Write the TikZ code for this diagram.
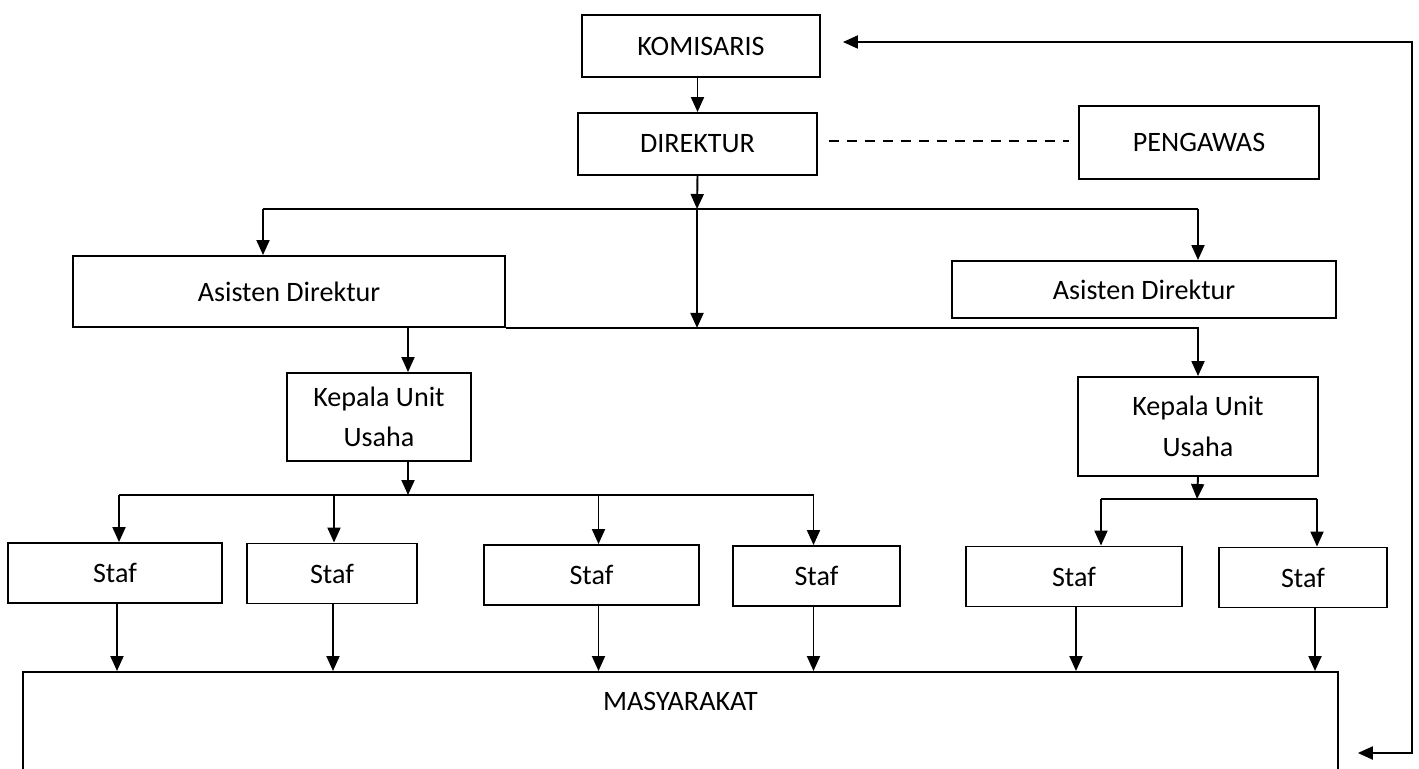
\documentclass[tikz,border=0pt]{standalone}
\usepackage{fontspec}
\setmainfont{Carlito}
\usetikzlibrary{arrows.meta,positioning,calc}

\begin{document}
\begin{tikzpicture}[x=0.02cm,y=-0.02cm,line width=1.1pt,
  >={Triangle[length=0.3cm,width=0.26cm]},
  every node/.style={font=\fontsize{16}{23}\selectfont},
  box/.style={draw,align=center,inner sep=0pt},
  arr/.style={->}]
  \useasboundingbox (0,0) rectangle (1419,768);
  \clip (0,0) rectangle (1419,768);

  \node[box,minimum width=4.76cm,minimum height=1.24cm] (kom) at (701,46) {KOMISARIS};
  \node[box,minimum width=4.78cm,minimum height=1.24cm] (dir) at (697.5,144) {DIREKTUR};
  \node[box,minimum width=4.80cm,minimum height=1.46cm] (peng) at (1199,142.5) {PENGAWAS};
  \node[box,minimum width=8.64cm,minimum height=1.42cm] (asL) at (289,291.5) {Asisten Direktur};
  \node[box,minimum width=7.68cm,minimum height=1.14cm] (asR) at (1144,289.5) {Asisten Direktur};
  \node[box,minimum width=3.68cm,minimum height=1.76cm] (kuL) at (379,417) {Kepala Unit\\Usaha};
  \node[box,minimum width=4.80cm,minimum height=1.98cm] (kuR) at (1198,426.5) {Kepala Unit\\Usaha};
  \foreach \n/\x/\y/\w in {s1/115/573/4.28,s2/332/573.5/3.40,s3/591.5/575/4.30,
      s4/816.5/576/3.34,s5/1074/576.5/4.32,s6/1303/577.5/3.36}
    \node[box,minimum width=\w cm,minimum height=1.2cm] (\n) at (\x,\y) {Staf};
  \node[box,anchor=north,minimum width=26.3cm,text height=0.78cm,text depth=1.6cm] (masy) at (680.5,671) {MASYARAKAT};

  \coordinate (j1) at (697,209);
  \coordinate (j1L) at (263,209);
  \coordinate (j1R) at (1198,209);
  \coordinate (j2) at (408,495);
  \coordinate (j3) at (1197,499);
  \coordinate (r1) at (1412,42);
  \coordinate (r2) at (1412,753);

  \draw[arr] (dir.north |- kom.south) -- (dir.north);
  \draw[arr] (dir.south) -- (j1);
  \draw (j1L) -- (j1R);
  \draw[arr] (j1L) -- (j1L |- asL.north);
  \draw[arr] (j1R) -- (j1R |- asR.north);
  \draw[arr] (j1) -- (j1 |- asL.south);
  \draw[arr] (asL.south east) -| (kuR.north);
  \draw[arr] ($(asL.south -| kuL.north)+(29,0)$) -- ($(kuL.north)+(29,0)$);
  \draw[dashed,line width=0.9pt,dash pattern=on 0.2cm off 0.16cm]
    ($(dir.east)+(11,-3)$) -- ($(peng.west |- dir.east)+(-9,-3)$);

  \draw[arr] ($(kuL.south)+(29,0)$) -- (j2);
  \draw ($(s1.north |- j2)+(4,0)$) -- ($(s4.north |- j2)+(-3,0)$);
  \foreach \n/\d in {s1/4,s2/2,s3/7,s4/-3}
    \draw[arr] ($(\n.north |- j2)+(\d,0)$) -- ($(\n.north)+(\d,0)$);
  \draw[arr] (kuR.south) -- (j3);
  \draw ($(s5.north |- j3)+(27,0)$) -- ($(s6.north |- j3)+(14,0)$);
  \foreach \n/\d in {s5/27,s6/14}
    \draw[arr] ($(\n.north |- j3)+(\d,0)$) -- ($(\n.north)+(\d,0)$);
  \foreach \n/\d in {s1/2,s2/1,s3/7,s4/-3,s5/2,s6/12}
    \draw[arr] ($(\n.south)+(\d,0)$) -- ($(\n.south |- masy.north)+(\d,0)$);

  \draw[<->] ($(kom.east |- r1)+(22,0)$) -- (r1) -- (r2) -- ($(masy.east |- r2)+(19,0)$);
\end{tikzpicture}
\end{document}
